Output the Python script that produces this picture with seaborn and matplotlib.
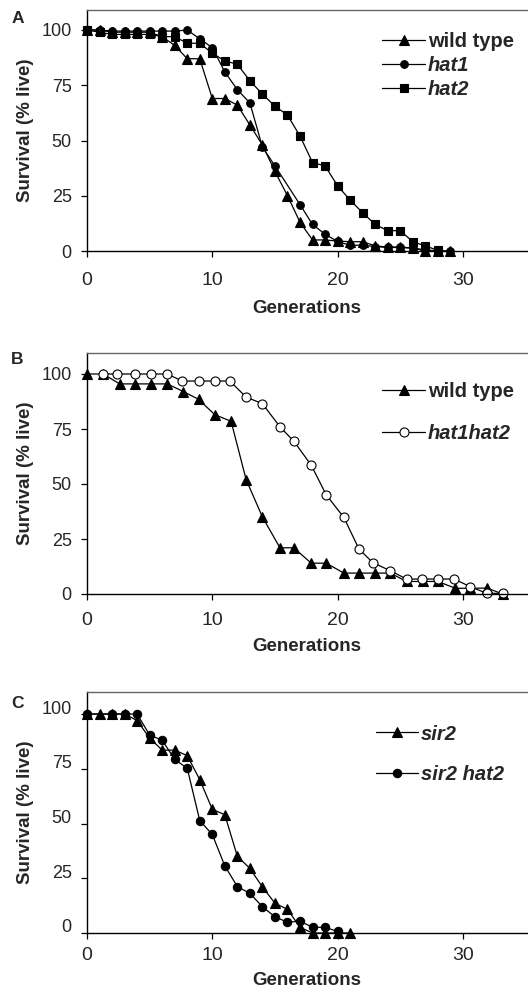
import matplotlib
matplotlib.use("Agg")
import matplotlib.pyplot as plt
from matplotlib.transforms import ScaledTranslation
import pandas as pd
import seaborn as sns

# ---------------- data ----------------
# Panel A
a_wt_gen = [0, 1, 2, 3, 4, 5, 6, 7, 8, 9, 10, 11, 12, 13, 14, 15, 16, 17, 18, 19, 20, 21, 22, 23, 24, 25, 26, 27, 28, 29]
a_wt_val = [100, 100, 99, 99, 99, 99, 97, 93, 87, 87, 69, 69, 66, 57, 48, 36, 25, 13, 5, 5, 4.5, 4.2, 4.2, 2.3, 1.8, 1.8, 1.4, 0, 0, 0]
a_hat1_gen = [0, 1, 2, 3, 4, 5, 6, 7, 8, 9, 10, 11, 12, 13, 14, 15, 17, 18, 19, 20, 21, 22, 23, 24, 25, 26, 27, 28, 29]
a_hat1_val = [100, 100, 99.5, 99.5, 99.5, 99.5, 99.5, 99.5, 100, 96, 92, 81, 73, 67, 47, 38.5, 21, 12, 7.6, 4.3, 2.6, 2.6, 2, 1.6, 1.6, 1.2, 0.6, 0, 0]
a_hat2_gen = [0, 1, 2, 3, 4, 5, 6, 7, 8, 9, 10, 11, 12, 13, 14, 15, 16, 17, 18, 19, 20, 21, 22, 23, 24, 25, 26, 27, 28]
a_hat2_val = [100, 99, 98, 98, 98, 98, 97, 97, 94, 94, 89.5, 86, 84.5, 77, 71, 65.5, 61.5, 52, 40, 38.5, 29.5, 23, 17.3, 12, 9.2, 9.2, 4.2, 2.3, 0.3]

# Panel B
b_wt_gen = [0, 1.3, 2.6, 3.8, 5.1, 6.4, 7.7, 8.9, 10.2, 11.5, 12.7, 14.0, 15.4, 16.5, 17.9, 19.1, 20.5, 21.7, 23.0, 24.2, 25.5, 26.8, 28.0, 29.4, 30.6, 31.9, 33.2]
b_wt_val = [100, 100, 95.5, 95.5, 95.5, 95.5, 92, 88.5, 81.5, 78.5, 52, 35, 21, 21, 14, 14, 9.5, 9.5, 9.5, 9.5, 5.7, 5.7, 5.7, 2.6, 2.6, 2.7, 0]
b_dbl_gen = [1.3, 2.4, 3.8, 5.1, 6.4, 7.6, 8.9, 10.2, 11.4, 12.7, 14.0, 15.4, 16.5, 17.9, 19.1, 20.5, 21.7, 22.8, 24.2, 25.5, 26.7, 28.0, 29.3, 30.6, 31.9, 33.2]
b_dbl_val = [100, 100, 100, 100, 100, 96.8, 96.8, 96.8, 96.8, 89.5, 86.5, 76, 69.5, 58.5, 45, 34.8, 20.5, 14.3, 10.6, 6.8, 6.8, 6.8, 6.8, 3.3, 0.3, 0.3]

# Panel C
c_sir2_gen = [0, 1, 2, 3, 4, 5, 6, 7, 8, 9, 10, 11, 12, 13, 14, 15, 16, 17, 18, 19, 20, 21]
c_sir2_val = [100, 100, 100, 100, 97, 89, 83.5, 83.5, 81, 70, 56.5, 54, 35, 29.5, 21, 13.6, 10.8, 2.6, 0, 0, 0, 0]
c_dbl_gen = [0, 2, 3, 4, 5, 6, 7, 8, 9, 10, 11, 12, 13, 14, 15, 16, 17, 18, 19, 20]
c_dbl_val = [100, 100, 100, 100, 90.4, 88, 79.3, 75.2, 51.3, 45, 30.6, 21.2, 18.1, 12, 7.4, 4.9, 5.4, 2.6, 2.6, 0.7]

x_ticks = [0, 10, 20, 30]
y_ticks = [0, 25, 50, 75, 100]
panel_letters = ["A", "B", "C"]

# ---------------- style ----------------
sns.set_theme(style="ticks")
plt.rcParams["font.family"] = ["Liberation Sans", "DejaVu Sans"]

W, H = 528, 992
fig = plt.figure(figsize=(W / 100, H / 100), dpi=100)

PX_PER_GEN = 12.53
X0 = 87
AX_W = 445


def make_ax(bottom_px, px_per_unit):
    height = 241
    ax = fig.add_axes([X0 / W, (H - bottom_px) / H, AX_W / W, height / H])
    ax.set_xlim(0, AX_W / PX_PER_GEN)
    ax.set_ylim(0, height / px_per_unit)
    return ax


def style_ax(ax, xlabel_y, xpad):
    ax.set_xticks(x_ticks)
    ax.set_yticks(y_ticks)
    ax.spines["right"].set_visible(False)
    ax.spines["top"].set_color("#666666")
    ax.spines["top"].set_linewidth(1.0)
    for s in ("left", "bottom"):
        ax.spines[s].set_color("black")
        ax.spines[s].set_linewidth(1.0)
    ax.tick_params(axis="both", direction="out", length=4, width=0.9, color="black")
    ax.tick_params(axis="x", labelsize=14, pad=xpad)
    ax.tick_params(axis="y", labelsize=13, pad=7)
    ax.set_xlabel("Generations", fontsize=13.5, fontweight="bold")
    ax.set_ylabel("Survival (% live)", fontsize=13.5, fontweight="bold")
    ax.xaxis.set_label_coords(0.494, xlabel_y)
    ax.yaxis.set_label_coords(-0.12, 0.5)
    ax.grid(False)


def series(ax, gens, vals, marker, ms, label, mfc="black"):
    df = pd.DataFrame({"gen": gens, "val": vals})
    sns.lineplot(data=df, x="gen", y="val", ax=ax, color="black", linewidth=0.9,
                 marker=marker, markersize=ms, markerfacecolor=mfc,
                 markeredgecolor="black", markeredgewidth=0.8,
                 estimator=None, sort=False, label=label, clip_on=False)


def legend(ax, anchor, spacing, italic_idx):
    leg = ax.legend(loc="upper left", bbox_to_anchor=anchor, frameon=False,
                    handlelength=2.1, handletextpad=0.15,
                    labelspacing=spacing, borderaxespad=0, borderpad=0,
                    prop={"weight": "bold", "size": 14.5})
    for i, t in enumerate(leg.get_texts()):
        if i in italic_idx:
            t.set_style("italic")
    return leg


# Panel A
axA = make_ax(251, 2.21)
series(axA, a_wt_gen, a_wt_val, "^", 7.5, "wild type")
series(axA, a_hat1_gen, a_hat1_val, "o", 5.5, "hat1")
series(axA, a_hat2_gen, a_hat2_val, "s", 5.5, "hat2")
style_ax(axA, -0.203, 11)
legend(axA, (0.664, 0.91), 0.25, {1, 2})

# Panel B
axB = make_ax(594, 2.2)
series(axB, b_wt_gen, b_wt_val, "^", 7.5, "wild type")
series(axB, b_dbl_gen, b_dbl_val, "o", 6.5, "hat1hat2", mfc="white")
style_ax(axB, -0.183, 9)
legend(axB, (0.664, 0.88), 1.15, {1})

# Panel C
axC = make_ax(933, 2.19)
series(axC, c_sir2_gen, c_sir2_val, "^", 7.5, "sir2")
series(axC, c_dbl_gen, c_dbl_val, "o", 6, "sir2 hat2")
style_ax(axC, -0.162, 6)
legend(axC, (0.649, 0.865), 1.05, {0, 1})
shift = ScaledTranslation(0, 0.07, fig.dpi_scale_trans)
for lab in axC.get_yticklabels():
    lab.set_transform(lab.get_transform() + shift)

# panel letters
for letter, ypx in zip(panel_letters, [18.5, 360, 703]):
    fig.text(17.5 / W, 1 - ypx / H, letter, fontsize=12.5, fontweight="bold",
             ha="center", va="center")

fig.savefig("out.png", dpi=100)
